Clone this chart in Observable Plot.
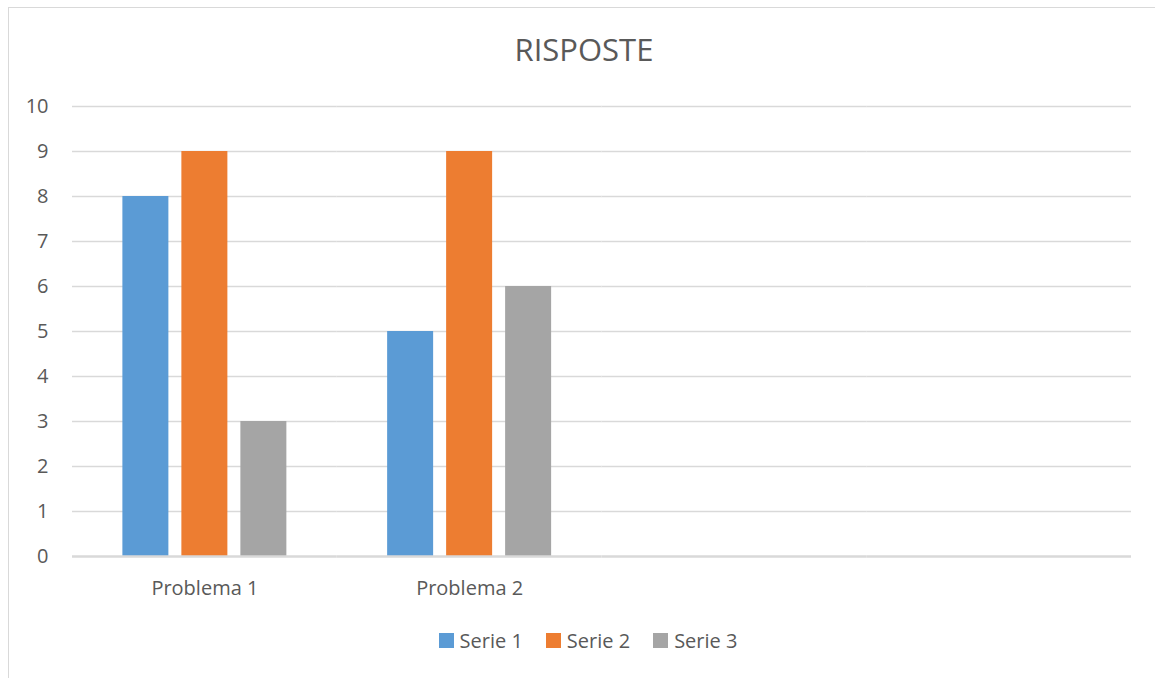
<!DOCTYPE html>
<html><head><meta charset="utf-8">
<script src="https://cdn.jsdelivr.net/npm/d3@7"></script>
<script src="https://cdn.jsdelivr.net/npm/@observablehq/plot@0.6"></script>
<style>
html,body{margin:0;padding:0;background:#fff;overflow:hidden;font-family:"Open Sans",sans-serif;}
#frame{position:absolute;left:8px;top:7px;width:1180px;height:700px;border:1px solid #d9d9d9;box-sizing:border-box;}
#title{position:absolute;left:0;width:1168px;top:34px;text-align:center;font-size:31px;line-height:31px;color:#595959;}
#chart{position:absolute;left:0;top:80px;}
#legend{position:absolute;left:0;width:1176px;top:624px;display:flex;justify-content:center;}
#legend .lg-swatch{margin-right:23px !important;}
#legend .lg-swatch:last-child{margin-right:0 !important;}
#legend .lg-swatch > svg{margin-right:6px !important;}
</style>
</head><body>
<div id="frame"></div>
<div id="title">RISPOSTE</div>
<div id="chart"></div>
<div id="legend"></div>
<script>
// Four category rows in the source sheet; the last two are blank.
const categories = ["Problema 1", "Problema 2", "", ""];
const series = ["Serie 1", "Serie 2", "Serie 3"];
const serie1 = [8, 5, null, null];
const serie2 = [9, 9, null, null];
const serie3 = [3, 6, null, null];
const colors = ["#5B9BD5", "#ED7D31", "#A5A5A5"];
const yTicks = [0, 1, 2, 3, 4, 5, 6, 7, 8, 9, 10];

const values = [serie1, serie2, serie3];
const table = [];
values.forEach((vals, s) => vals.forEach((v, i) => table.push({cat: i, series: series[s], value: v})));

const plot = Plot.plot({
  width: 1155, height: 526,
  marginLeft: 72, marginRight: 24, marginTop: 26, marginBottom: 50,
  style: {fontFamily: "Open Sans", fontSize: "20px", color: "#595959", background: "transparent", overflow: "visible"},
  fx: {domain: categories.map((_, i) => i), padding: 0, round: false, axis: "bottom", tickSize: 0, tickPadding: 24, tickFormat: i => categories[i], label: null},
  x: {domain: series, paddingInner: 13/59, paddingOuter: 0.854, round: false, axis: null},
  y: {domain: [0, 10], ticks: yTicks, tickSize: 0, tickPadding: 24, label: null},
  color: {domain: series, range: colors},
  marks: [
    Plot.ruleY(yTicks.filter(d => d > 0), {stroke: "#d9d9d9", strokeWidth: 1.6}),
    Plot.barY(table, {fx: "cat", x: "series", y: "value", fill: "series"}),
    Plot.ruleY([0], {stroke: "#d9d9d9", strokeWidth: 2.4})
  ]
});
document.getElementById("chart").appendChild(plot);

const legend = Plot.legend({
  color: {domain: series, range: colors},
  legend: "swatches",
  swatchSize: 15,
  className: "lg",
  style: {fontFamily: "Open Sans", fontSize: "20px", color: "#595959"}
});
document.getElementById("legend").appendChild(legend);
</script>
</body></html>
